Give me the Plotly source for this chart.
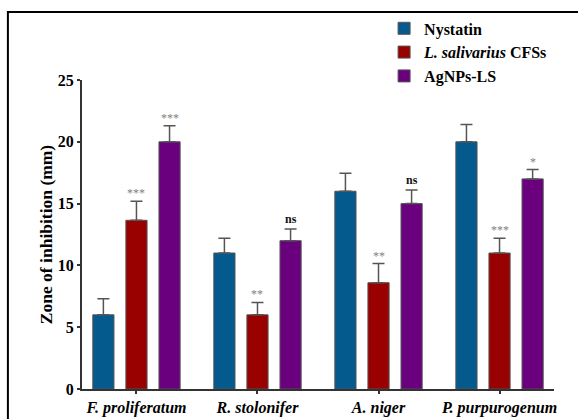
import plotly.graph_objects as go

categories = ["F. proliferatum", "R. stolonifer", "A. niger", "P. purpurogenum"]
series_names = ["Nystatin", "<i>L. salivarius</i> CFSs", "AgNPs-LS"]
nystatin = [6.0, 11.0, 16.0, 20.0]
nystatin_err = [1.3, 1.2, 1.45, 1.4]
cfs = [13.65, 6.0, 8.6, 11.0]
cfs_err = [1.55, 1.0, 1.55, 1.2]
agnps = [20.0, 12.0, 15.0, 17.0]
agnps_err = [1.3, 0.95, 1.1, 0.75]
cfs_sig = ["***", "**", "**", "***"]
agnps_sig = ["***", "ns", "ns", "*"]
y_ticks = [0, 5, 10, 15, 20, 25]

colors = ["#045a8d", "#990000", "#6b007f"]
FONT = "Liberation Serif"
bargap = 0.18
bargroupgap = 0.36

x = list(range(len(categories)))
vals = [nystatin, cfs, agnps]
errs = [nystatin_err, cfs_err, agnps_err]

fig = go.Figure()
for k in range(3):
    fig.add_trace(go.Bar(
        x=x, y=vals[k], name="<b>" + series_names[k] + "</b>",
        marker=dict(color=colors[k], line=dict(color="#555555", width=1)),
        error_y=dict(type="data", array=errs[k], arrayminus=[0] * 4, symmetric=False,
                     color="#555555", thickness=1.5, width=6),
    ))

slot = (1 - bargap) / 3
for k, sig in [(1, cfs_sig), (2, agnps_sig)]:
    for i in range(len(categories)):
        s = sig[i]
        is_ns = s == "ns"
        fig.add_annotation(
            x=i + (k - 1) * slot, y=vals[k][i] + errs[k][i],
            text=("<b>ns</b>" if is_ns else s),
            showarrow=False, yanchor="bottom", yshift=(1 if is_ns else -1),
            font=dict(family=FONT, size=(12 if is_ns else 12),
                      color=("#111111" if is_ns else "#808080")),
        )

fig.add_shape(type="rect", xref="paper", yref="paper",
              x0=-0.157, x1=1.3, y0=-0.4, y1=1.22,
              line=dict(color="black", width=2), fillcolor="rgba(0,0,0,0)")

fig.update_layout(
    width=578, height=419,
    margin=dict(l=82, r=24, t=80, b=30, autoexpand=False),
    paper_bgcolor="white", plot_bgcolor="white",
    barmode="group", bargap=bargap, bargroupgap=bargroupgap,
    font=dict(family=FONT, size=16, color="black"),
    legend=dict(x=0.64, y=1.222, xanchor="left", yanchor="top",
                font=dict(family=FONT, size=16, color="black"),
                bgcolor="rgba(0,0,0,0)"),
    xaxis=dict(
        range=[-0.45, 3.45], tickmode="array", tickvals=x,
        ticktext=["<b><i>" + c + "</i></b>" for c in categories],
        tickfont=dict(family=FONT, size=16, color="black"),
        showline=True, linecolor="#333333", linewidth=2,
        ticks="outside", ticklen=3, tickcolor="#333333", tickwidth=1.5,
        showgrid=False, zeroline=False, automargin=False,
    ),
    yaxis=dict(
        range=[0, 25], tickmode="array", tickvals=y_ticks,
        ticktext=["<b>%d</b>" % t for t in y_ticks],
        tickfont=dict(family=FONT, size=16, color="black"),
        showline=True, linecolor="#333333", linewidth=2,
        ticks="outside", ticklen=3, tickcolor="#333333", tickwidth=1.5,
        showgrid=False, zeroline=False, automargin=False,
        title=dict(text="<b>Zone of inhibition (mm)</b>", standoff=1,
                   font=dict(family=FONT, size=17.5, color="black")),
    ),
)

fig.write_html("out.html", config={"displayModeBar": False},
               post_script="document.body.style.margin='0';")
